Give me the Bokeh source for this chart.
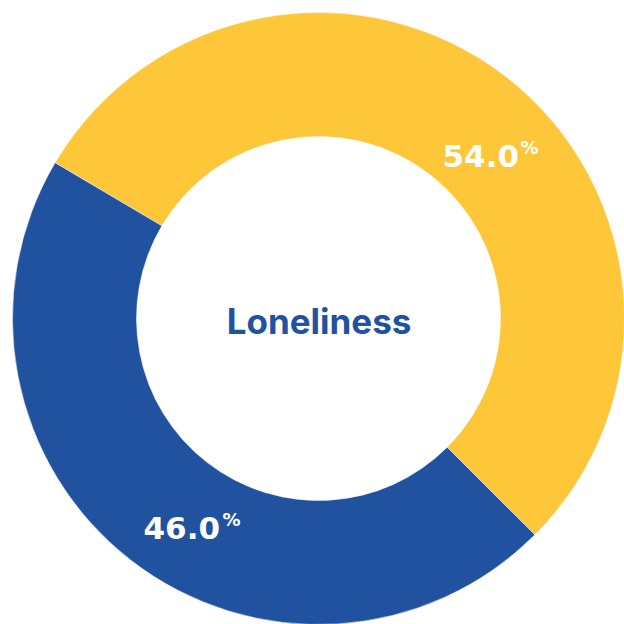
import math
from bokeh.plotting import figure
from bokeh.models import Range1d, ColumnDataSource
from bokeh.core.properties import value
from bokeh.embed import file_html
from bokeh.resources import INLINE

categories = ["Yes", "No"]
shares = [54.0, 46.0]
colors = ["#FEC639", "#2152A0"]
center_title = "Loneliness"

W = H = 624
cx, cy = 318, 318
r_out, r_in = 306, 182
start = -45.0  # degrees, counter-clockwise start of first slice

p = figure(width=W, height=H, output_backend="svg", toolbar_location=None,
           x_range=Range1d(0, W), y_range=Range1d(H, 0), min_border=0)
p.axis.visible = False
p.grid.visible = False
p.outline_line_color = None
p.background_fill_color = "white"

total = sum(shares)
starts, ends = [], []
a = start
for s in shares:
    starts.append(math.radians(a))
    a += 360 * s / total
    ends.append(math.radians(a))

src = ColumnDataSource(dict(x=[cx] * len(shares), y=[cy] * len(shares),
                            start=starts, end=ends, color=colors))
p.annular_wedge(x="x", y="y", inner_radius=r_in, outer_radius=r_out,
                start_angle="start", end_angle="end", direction="anticlock",
                fill_color="color", line_color="white", line_width=0.5, source=src)

# labels
label_pos = [(442, 155), (143, 527)]
labels = [f"{s:.1f}" for s in shares]
p.text(x=[lp[0] for lp in label_pos], y=[lp[1] for lp in label_pos], text=labels,
       text_font=value("DejaVu Sans"), text_font_style="bold", text_font_size="31px",
       text_color="white", text_align="left", text_baseline="alphabetic")
pct_pos = [(520, 147), (222, 519)]
p.text(x=[lp[0] for lp in pct_pos], y=[lp[1] for lp in pct_pos], text=["%"] * 2,
       text_font=value("DejaVu Sans"), text_font_style="bold", text_font_size="18px",
       text_color="white", text_align="left", text_baseline="alphabetic")

p.text(x=[cx + 0.5], y=[cy + 2], text=[center_title], text_font=value("Inter"),
       text_font_style="bold", text_font_size="35px", text_color="#2152A0",
       text_align="center", text_baseline="middle")

open("out.html", "w").write(file_html(p, INLINE))
